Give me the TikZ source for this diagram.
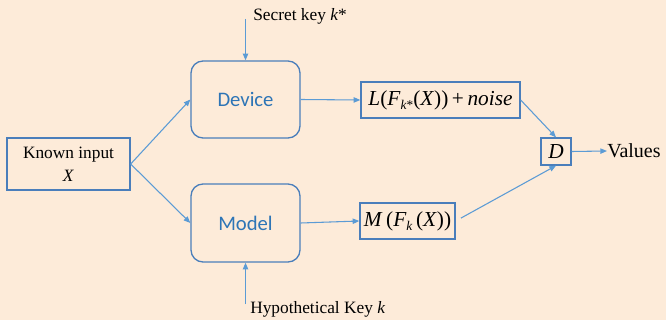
\documentclass[tikz,border=0pt]{standalone}
\usepackage{fontspec}
\setmainfont{Liberation Serif}
\newfontfamily\calibrilike{Carlito}
\usetikzlibrary{arrows.meta}
\definecolor{bgpeach}{HTML}{FDEBD9}
\definecolor{linkblue}{HTML}{5B9BD5}
\definecolor{edgeblue}{HTML}{4A7EBB}
\definecolor{labelblue}{HTML}{2E75B6}
\tikzset{
  conn/.style={draw=linkblue, line width=0.8pt, -{Triangle[length=5pt,width=4pt]}},
  plainbox/.style={draw=edgeblue, line width=1pt, inner sep=0pt, align=center},
  blockbox/.style={plainbox, rounded corners=9pt, font=\calibrilike\fontsize{15.5}{18}\selectfont, text=labelblue},
  serif13/.style={font=\fontsize{13}{15.5}\selectfont},
  mathtxt/.style={font=\fontsize{16}{19}\selectfont},
}
\newcommand{\ivar}[1]{\textit{#1}}
\begin{document}
\begin{tikzpicture}[x=0.75pt, y=-0.75pt]
  \fill[bgpeach] (0,0) rectangle (666,320);
  \useasboundingbox (0,0) rectangle (666,320);

  % input and the two processing blocks
  \node[plainbox, serif13, minimum width=123*0.75pt, minimum height=52*0.75pt] (known) at (68.5,164) {Known input\\[2pt]\ivar{X}};
  \node[blockbox, minimum width=109*0.75pt, minimum height=77*0.75pt] (device) at (245.5,99.5) {Device};
  \node[blockbox, minimum width=109*0.75pt, minimum height=78*0.75pt] (model) at (245.5,223) {Model};

  % key labels
  \node[serif13, anchor=west, inner sep=0pt] (secret) at (253,16) {Secret key \ivar{k}*};
  \coordinate (secretin) at (245.5,19);
  \node[serif13, anchor=west, inner sep=0pt] (hypo) at (250,309) {Hypothetical Key \ivar{k}};
  \coordinate (hypoin) at (245.5,304);

  % leakage / model outputs
  \node[plainbox, mathtxt, minimum width=159*0.75pt, minimum height=36*0.75pt] (leak) at (440.5,100)
    {\ivar{L}(\ivar{F}\raisebox{-0.45ex}{\fontsize{10}{12}\selectfont\ivar{k}*}(\ivar{X}))\,+\,\ivar{noise}};
  \node[plainbox, mathtxt, minimum width=95*0.75pt, minimum height=36*0.75pt] (pred) at (407.5,221)
    {\ivar{M}\,(\ivar{F}\raisebox{-0.45ex}{\fontsize{10}{12}\selectfont\ivar{k}}\,(\ivar{X}))};

  % distinguisher and result
  \node[plainbox, mathtxt, minimum width=30*0.75pt, minimum height=27*0.75pt] (dist) at (556,151.5) {\ivar{D}};
  \node[anchor=west, inner sep=0pt, font=\fontsize{15}{18}\selectfont] (values) at (607,151) {Values};

  % connectors
  \draw[conn] (known.east) -- (device.west);
  \draw[conn] (known.east) -- (model.west);
  \draw[conn] (secretin) -- (device.north);
  \draw[conn] (hypoin) -- (model.south);
  \draw[conn] (device.east) -- (leak.west);
  \draw[conn] (model.east) -- (pred.west);
  \draw[conn] (leak.east) -- (dist.north);
  \draw[conn, shorten <=4.5pt] (pred.east) -- (dist.south);
  \draw[conn] (dist.east) -- (values.west);
\end{tikzpicture}
\end{document}
